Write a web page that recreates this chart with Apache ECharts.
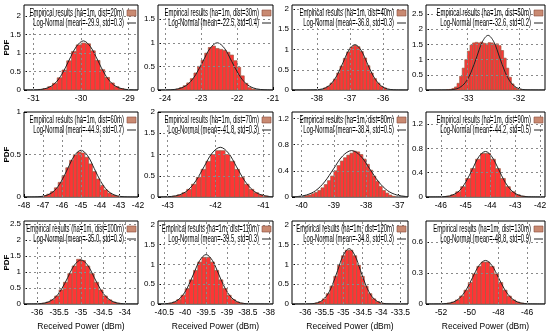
<!DOCTYPE html>
<html><head><meta charset="utf-8">
<script src="https://cdn.jsdelivr.net/npm/echarts@6/dist/echarts.min.js"></script>
<style>html,body{margin:0;padding:0;background:#fff}#c{width:550px;height:334px}</style>
</head><body><div id="c"></div>
<script>
// ---- labels ----
const distances = [20, 30, 40, 50, 60, 70, 80, 90, 100, 110, 120, 130];
const fitMeans = ['-29.9', '-22.5', '-36.8', '-32.6', '-44.9', '-41.8', '-38.4', '-44.2', '-35.0', '-39.5', '-34.8', '-48.8'];
const fitStds = ['0.3', '0.4', '0.3', '0.2', '0.7', '0.3', '0.5', '0.5', '0.3', '0.3', '0.3', '0.9'];

// ---- axis ranges & ticks ----
const xMins = [-31.2, -24.2, -38.75, -33.8, -48, -43.2, -40.3, -46.6, -36.3, -40.65, -36.35, -53.05];
const xMaxs = [-28.8, -21, -35.25, -31.5, -42, -40.8, -36.7, -41.8, -33.7, -37.9, -33.3, -44.75];
const yMaxs = [2.3, 1.8, 2.1, 2.8, 1, 2, 1.3, 1.4, 2.6, 2.1, 2.1, 0.8];
const xTicks = [
  [-31, -30, -29], [-24, -23, -22, -21], [-38, -37, -36], [-33, -32],
  [-48, -47, -46, -45, -44, -43, -42], [-43, -42, -41], [-40, -39, -38, -37], [-46, -45, -44, -43, -42],
  [-36, -35.5, -35, -34.5, -34], [-40.5, -40, -39.5, -39, -38.5, -38], [-36, -35.5, -35, -34.5, -34, -33.5], [-52, -50, -48, -46]
];
const yTicks = [
  [0, 0.5, 1, 1.5, 2], [0, 0.5, 1, 1.5], [0, 0.5, 1, 1.5, 2], [0, 0.5, 1, 1.5, 2, 2.5],
  [0, 0.5, 1], [0, 0.5, 1, 1.5, 2], [0, 0.4, 0.8, 1.2], [0, 0.4, 0.8, 1.2],
  [0, 0.5, 1, 1.5, 2, 2.5], [0, 0.5, 1, 1.5, 2], [0, 0.5, 1, 1.5, 2], [0, 0.3, 0.6]
];

// ---- histograms (bin centres, densities) ----
const p1HistX = [-30.85,-30.75,-30.65,-30.55,-30.45,-30.35,-30.25,-30.15,-30.05,-29.95,-29.85,-29.75,-29.65,-29.55,-29.45,-29.35,-29.25,-29.15,-29.05];
const p1HistY = [0.015,0.04,0.09,0.18,0.33,0.54,0.79,1.04,1.22,1.27,1.25,1.06,0.80,0.55,0.34,0.19,0.09,0.04,0.015];
const p2HistX = [-23.65,-23.55,-23.45,-23.35,-23.25,-23.15,-23.05,-22.95,-22.85,-22.75,-22.65,-22.55,-22.45,-22.35,-22.25,-22.15,-22.05,-21.95,-21.85,-21.75,-21.65,-21.55];
const p2HistY = [0.02,0.05,0.09,0.15,0.24,0.36,0.50,0.63,0.78,0.90,0.93,0.88,0.86,0.84,0.80,0.74,0.62,0.48,0.30,0.14,0.05,0.02];
const p3HistX = [-37.75,-37.65,-37.55,-37.45,-37.35,-37.25,-37.15,-37.05,-36.95,-36.85,-36.75,-36.65,-36.55,-36.45,-36.35,-36.25,-36.15,-36.05,-35.95];
const p3HistY = [0.05,0.09,0.17,0.27,0.42,0.59,0.78,0.94,1.06,1.10,1.07,0.95,0.79,0.60,0.42,0.28,0.17,0.09,0.05];
const p4HistX = [-33.375,-33.325,-33.275,-33.225,-33.175,-33.125,-33.075,-33.025,-32.975,-32.925,-32.875,-32.825,-32.775,-32.725,-32.675,-32.625,-32.575,-32.525,-32.475,-32.425,-32.375,-32.325,-32.275,-32.225,-32.175,-32.125,-32.075,-32.025,-31.975];
const p4HistY = [0.01,0.02,0.05,0.10,0.22,0.45,0.72,1.00,1.28,1.48,1.55,1.57,1.55,1.58,1.54,1.52,1.56,1.55,1.50,1.52,1.46,1.30,1.05,0.72,0.42,0.20,0.08,0.03,0.01];
const p5HistX = [-46.9,-46.7,-46.5,-46.3,-46.1,-45.9,-45.7,-45.5,-45.3,-45.1,-44.9,-44.7,-44.5,-44.3,-44.1,-43.9,-43.7,-43.5,-43.3,-43.1];
const p5HistY = [0.016,0.033,0.062,0.108,0.172,0.253,0.344,0.431,0.497,0.529,0.518,0.468,0.389,0.299,0.211,0.137,0.083,0.046,0.023,0.01];
const p6HistX = [-42.85,-42.75,-42.65,-42.55,-42.45,-42.35,-42.25,-42.15,-42.05,-41.95,-41.85,-41.75,-41.65,-41.55,-41.45,-41.35,-41.25,-41.15,-41.05,-40.95];
const p6HistY = [0.02,0.05,0.10,0.18,0.30,0.46,0.65,0.84,1.00,1.09,1.09,1.00,0.84,0.65,0.46,0.30,0.18,0.10,0.05,0.02];
const p7HistX = [-39.85,-39.75,-39.65,-39.55,-39.45,-39.35,-39.25,-39.15,-39.05,-38.95,-38.85,-38.75,-38.65,-38.55,-38.45,-38.35,-38.25,-38.15,-38.05,-37.95,-37.85,-37.75,-37.65,-37.55,-37.45,-37.35,-37.25,-37.15];
const p7HistY = [0.02,0.03,0.05,0.07,0.10,0.14,0.19,0.25,0.32,0.40,0.48,0.55,0.60,0.64,0.67,0.70,0.69,0.65,0.58,0.50,0.41,0.32,0.24,0.16,0.10,0.06,0.03,0.01];
const p8HistX = [-45.7,-45.5,-45.3,-45.1,-44.9,-44.7,-44.5,-44.3,-44.1,-43.9,-43.7,-43.5,-43.3,-43.1,-42.9,-42.7];
const p8HistY = [0.013,0.036,0.085,0.17,0.305,0.468,0.622,0.717,0.717,0.622,0.468,0.305,0.17,0.085,0.036,0.013];
const p9HistX = [-35.85,-35.75,-35.65,-35.55,-35.45,-35.35,-35.25,-35.15,-35.05,-34.95,-34.85,-34.75,-34.65,-34.55,-34.45,-34.35,-34.25,-34.15];
const p9HistY = [0.025,0.06,0.13,0.25,0.44,0.68,0.95,1.19,1.40,1.36,1.19,0.95,0.68,0.44,0.25,0.13,0.06,0.025];
const p10HistX = [-40.35,-40.25,-40.15,-40.05,-39.95,-39.85,-39.75,-39.65,-39.55,-39.45,-39.35,-39.25,-39.15,-39.05,-38.95,-38.85,-38.75,-38.65];
const p10HistY = [0.02,0.05,0.11,0.22,0.39,0.61,0.85,1.06,1.18,1.18,1.06,0.85,0.61,0.39,0.22,0.11,0.05,0.02];
const p11HistX = [-35.7,-35.6,-35.5,-35.4,-35.3,-35.2,-35.1,-35.0,-34.9,-34.8,-34.7,-34.6,-34.5,-34.4,-34.3,-34.2,-34.1,-34.0];
const p11HistY = [0.025,0.06,0.13,0.26,0.45,0.70,0.98,1.22,1.36,1.36,1.22,0.98,0.70,0.45,0.26,0.13,0.06,0.025];
const p12HistX = [-51.45,-51.15,-50.85,-50.55,-50.25,-49.95,-49.65,-49.35,-49.05,-48.75,-48.45,-48.15,-47.85,-47.55,-47.25,-46.95,-46.65,-46.35];
const p12HistY = [0.008,0.018,0.039,0.076,0.133,0.207,0.29,0.362,0.404,0.404,0.362,0.29,0.207,0.133,0.076,0.039,0.018,0.008];

// ---- fitted log-normal curves ----
const p1CurveX = [-31.2,-31.0,-30.85,-30.7,-30.55,-30.4,-30.25,-30.1,-29.95,-29.8,-29.65,-29.5,-29.35,-29.2,-29.05,-28.9,-28.8];
const p1CurveY = [0,0.003,0.015,0.058,0.18,0.43,0.81,1.17,1.33,1.17,0.81,0.43,0.18,0.058,0.015,0.003,0];
const p2CurveX = [-24.2,-23.95,-23.75,-23.55,-23.35,-23.15,-22.95,-22.75,-22.55,-22.35,-22.15,-21.95,-21.75,-21.55,-21.35,-21.15,-21.0];
const p2CurveY = [0,0.002,0.011,0.044,0.135,0.325,0.607,0.883,1.0,0.883,0.607,0.325,0.135,0.044,0.011,0.002,0];
const p3CurveX = [-38.75,-38.11,-37.93,-37.75,-37.57,-37.39,-37.21,-37.03,-36.85,-36.67,-36.49,-36.31,-36.13,-35.95,-35.77,-35.59,-35.25];
const p3CurveY = [0,0.002,0.012,0.049,0.152,0.364,0.679,0.988,1.12,0.988,0.679,0.364,0.152,0.049,0.012,0.002,0];
const p4CurveX = [-33.8,-33.37,-33.26,-33.15,-33.04,-32.93,-32.82,-32.71,-32.6,-32.49,-32.38,-32.27,-32.16,-32.05,-31.94,-31.83,-31.5];
const p4CurveY = [0,0.004,0.02,0.079,0.244,0.584,1.09,1.59,1.8,1.59,1.09,0.584,0.244,0.079,0.02,0.004,0];
const p5CurveX = [-48,-47.45,-47.1,-46.75,-46.4,-46.05,-45.7,-45.35,-45.0,-44.65,-44.3,-43.95,-43.6,-43.25,-42.9,-42.55,-42];
const p5CurveY = [0,0.001,0.006,0.024,0.074,0.179,0.334,0.485,0.55,0.485,0.334,0.179,0.074,0.024,0.006,0.001,0];
const p6CurveX = [-43.2,-43.09,-42.92,-42.75,-42.58,-42.41,-42.24,-42.07,-41.9,-41.73,-41.56,-41.39,-41.22,-41.05,-40.88,-40.8];
const p6CurveY = [0.001,0.003,0.013,0.051,0.158,0.38,0.71,1.033,1.17,1.033,0.71,0.38,0.158,0.051,0.013,0.006];
const p7CurveX = [-40.3,-40.1,-39.85,-39.57,-39.29,-39.01,-38.73,-38.45,-38.17,-37.89,-37.61,-37.33,-37.05,-36.77,-36.7];
const p7CurveY = [0.003,0.009,0.031,0.096,0.231,0.431,0.627,0.71,0.627,0.431,0.231,0.096,0.031,0.008,0.006];
const p8CurveX = [-46.6,-46.06,-45.79,-45.53,-45.26,-45.0,-44.73,-44.47,-44.2,-43.94,-43.67,-43.41,-43.14,-42.88,-42.61,-42.35,-41.8];
const p8CurveY = [0,0.002,0.008,0.033,0.101,0.244,0.455,0.662,0.75,0.662,0.455,0.244,0.101,0.033,0.008,0.002,0];
const p9CurveX = [-36.3,-36.05,-35.9,-35.75,-35.6,-35.45,-35.3,-35.15,-35.0,-34.85,-34.7,-34.55,-34.4,-34.25,-34.1,-33.95,-33.7];
const p9CurveY = [0,0.003,0.015,0.061,0.187,0.448,0.837,1.218,1.38,1.218,0.837,0.448,0.187,0.061,0.015,0.003,0];
const p10CurveX = [-40.65,-40.55,-40.4,-40.25,-40.1,-39.95,-39.8,-39.65,-39.5,-39.35,-39.2,-39.05,-38.9,-38.75,-38.6,-38.45,-37.9];
const p10CurveY = [0.001,0.003,0.014,0.055,0.169,0.406,0.758,1.103,1.25,1.103,0.758,0.406,0.169,0.055,0.014,0.003,0];
const p11CurveX = [-36.35,-35.9,-35.75,-35.6,-35.45,-35.3,-35.15,-35.0,-34.85,-34.7,-34.55,-34.4,-34.25,-34.1,-33.95,-33.8,-33.3];
const p11CurveY = [0,0.003,0.016,0.061,0.189,0.455,0.849,1.236,1.4,1.236,0.849,0.455,0.189,0.061,0.016,0.003,0];
const p12CurveX = [-53.05,-52.05,-51.6,-51.15,-50.7,-50.25,-49.8,-49.35,-48.9,-48.45,-48.0,-47.55,-47.1,-46.65,-46.2,-45.75,-44.75];
const p12CurveY = [0,0.001,0.005,0.018,0.057,0.136,0.255,0.371,0.42,0.371,0.255,0.136,0.057,0.018,0.005,0.001,0];

const histXs = [p1HistX,p2HistX,p3HistX,p4HistX,p5HistX,p6HistX,p7HistX,p8HistX,p9HistX,p10HistX,p11HistX,p12HistX];
const histYs = [p1HistY,p2HistY,p3HistY,p4HistY,p5HistY,p6HistY,p7HistY,p8HistY,p9HistY,p10HistY,p11HistY,p12HistY];
const curveXs = [p1CurveX,p2CurveX,p3CurveX,p4CurveX,p5CurveX,p6CurveX,p7CurveX,p8CurveX,p9CurveX,p10CurveX,p11CurveX,p12CurveX];
const curveYs = [p1CurveY,p2CurveY,p3CurveY,p4CurveY,p5CurveY,p6CurveY,p7CurveY,p8CurveY,p9CurveY,p10CurveY,p11CurveY,p12CurveY];

// ---- layout ----
const colLeft = [24, 158, 292, 426];
const colRight = [138, 273, 408, 545];
const rowTop = [5, 112, 221];
const rowBottom = [90, 197, 304];
const FONT = "'Liberation Sans','Arial',sans-serif";
const HIST_FILL = '#ff3535';
const HIST_EDGE = '#9a5f45';

const grids = [], xAxes = [], yAxes = [], series = [], graphics = [];
for (let i = 0; i < 12; i++) {
  const r = Math.floor(i / 4), c = i % 4;
  const histName = 'Empirical results (ha=1m, dist=' + distances[i] + 'm)';
  const curveName = 'Log-Normal (mean=' + fitMeans[i] + ', std=' + fitStds[i] + ')';
  grids.push({
    left: colLeft[c], top: rowTop[r], width: colRight[c] - colLeft[c], height: rowBottom[r] - rowTop[r],
    show: true, borderColor: '#000', borderWidth: 1, backgroundColor: 'transparent',
    containLabel: false, outerBoundsMode: 'none'
  });
  const xt = xTicks[i], yt = yTicks[i];
  xAxes.push({
    type: 'value', gridIndex: i, min: xMins[i], max: xMaxs[i],
    axisLine: { show: false },
    axisTick: { show: true, inside: true, length: 3, customValues: xt, lineStyle: { color: '#000' } },
    axisLabel: { customValues: xt, margin: 4, fontSize: 8.5, fontFamily: FONT, color: '#000' },
    splitLine: { show: false },
    name: r === 2 ? 'Received Power (dBm)' : '',
    nameLocation: 'middle', nameGap: 18, nameMoveOverlap: false,
    nameTextStyle: { fontSize: 8.5, fontFamily: FONT, color: '#000' }
  });
  yAxes.push({
    type: 'value', gridIndex: i, min: 0, max: yMaxs[i],
    axisLine: { show: false },
    axisTick: { show: true, inside: true, length: 3, customValues: yt, lineStyle: { color: '#000' } },
    axisLabel: { customValues: yt, margin: 3, fontSize: 8, fontFamily: FONT, color: '#000' },
    splitLine: { show: false },
    name: c === 0 ? 'PDF' : '',
    nameLocation: 'middle', nameGap: 13, nameRotate: 90, nameMoveOverlap: false,
    nameTextStyle: { fontSize: 8, fontFamily: FONT, color: '#000', fontWeight: 'bold' }
  });
  // dotted grid lines at tick positions
  const gl = [];
  xt.forEach(v => { if (v > xMins[i] && v < xMaxs[i]) gl.push({ xAxis: v }); });
  yt.forEach(v => { if (v > 0 && v < yMaxs[i]) gl.push({ yAxis: v }); });
  series.push({
    type: 'line', xAxisIndex: i, yAxisIndex: i, data: [], z: 1, silent: true,
    markLine: { silent: true, symbol: ['none', 'none'], label: { show: false }, animation: false,
      lineStyle: { color: '#8a8a8a', type: [2, 3], width: 1 }, data: gl }
  });
  const hx = histXs[i], hy = histYs[i];
  const bw = hx[1] - hx[0];
  series.push({
    type: 'custom', name: histName, xAxisIndex: i, yAxisIndex: i, z: 2, clip: true,
    itemStyle: { color: HIST_FILL, borderColor: HIST_EDGE },
    data: hx.map((x, k) => [x, hy[k]]),
    renderItem: function (params, api) {
      const x = api.value(0), y = api.value(1);
      const p0 = api.coord([x - bw / 2, y]);
      const p1 = api.coord([x + bw / 2, 0]);
      return { type: 'rect', shape: { x: p0[0], y: p0[1], width: p1[0] - p0[0], height: p1[1] - p0[1] },
        style: { fill: HIST_FILL, stroke: HIST_EDGE, lineWidth: 0.7 } };
    }
  });
  const cx = curveXs[i], cy = curveYs[i];
  series.push({
    type: 'line', name: curveName, xAxisIndex: i, yAxisIndex: i, z: 3,
    data: cx.map((x, k) => [x, cy[k]]), showSymbol: false, symbol: 'none', smooth: 0.35, clip: true,
    lineStyle: { color: '#222', width: 1 }, itemStyle: { color: '#222' }
  });
  // key drawn inside the box, top right, condensed text
  const R = colRight[c], T = rowTop[r];
  graphics.push({
    type: 'text', x: R - 14, y: T + 8, scaleX: 0.59, z: 10, silent: true,
    style: { text: histName, fontSize: 10, fontFamily: FONT, fill: '#000', align: 'right', verticalAlign: 'middle', textAlign: 'right', textVerticalAlign: 'middle' }
  });
  graphics.push({
    type: 'rect', z: 10, silent: true, shape: { x: R - 11, y: T + 5, width: 9, height: 6 },
    style: { fill: '#c98a72', stroke: '#8b4a3a', lineWidth: 0.6 }
  });
  graphics.push({
    type: 'text', x: R - 14, y: T + 18, scaleX: 0.59, z: 10, silent: true,
    style: { text: curveName, fontSize: 10, fontFamily: FONT, fill: '#000', align: 'right', verticalAlign: 'middle', textAlign: 'right', textVerticalAlign: 'middle' }
  });
  graphics.push({
    type: 'line', z: 10, silent: true, shape: { x1: R - 11, y1: T + 18, x2: R - 2, y2: T + 18 },
    style: { stroke: '#222', lineWidth: 1 }
  });
}

const chart = echarts.init(document.getElementById('c'), null, { renderer: 'canvas' });
chart.setOption({
  animation: false,
  backgroundColor: '#fff',
  grid: grids, xAxis: xAxes, yAxis: yAxes, series: series, graphic: graphics
});
</script></body></html>
